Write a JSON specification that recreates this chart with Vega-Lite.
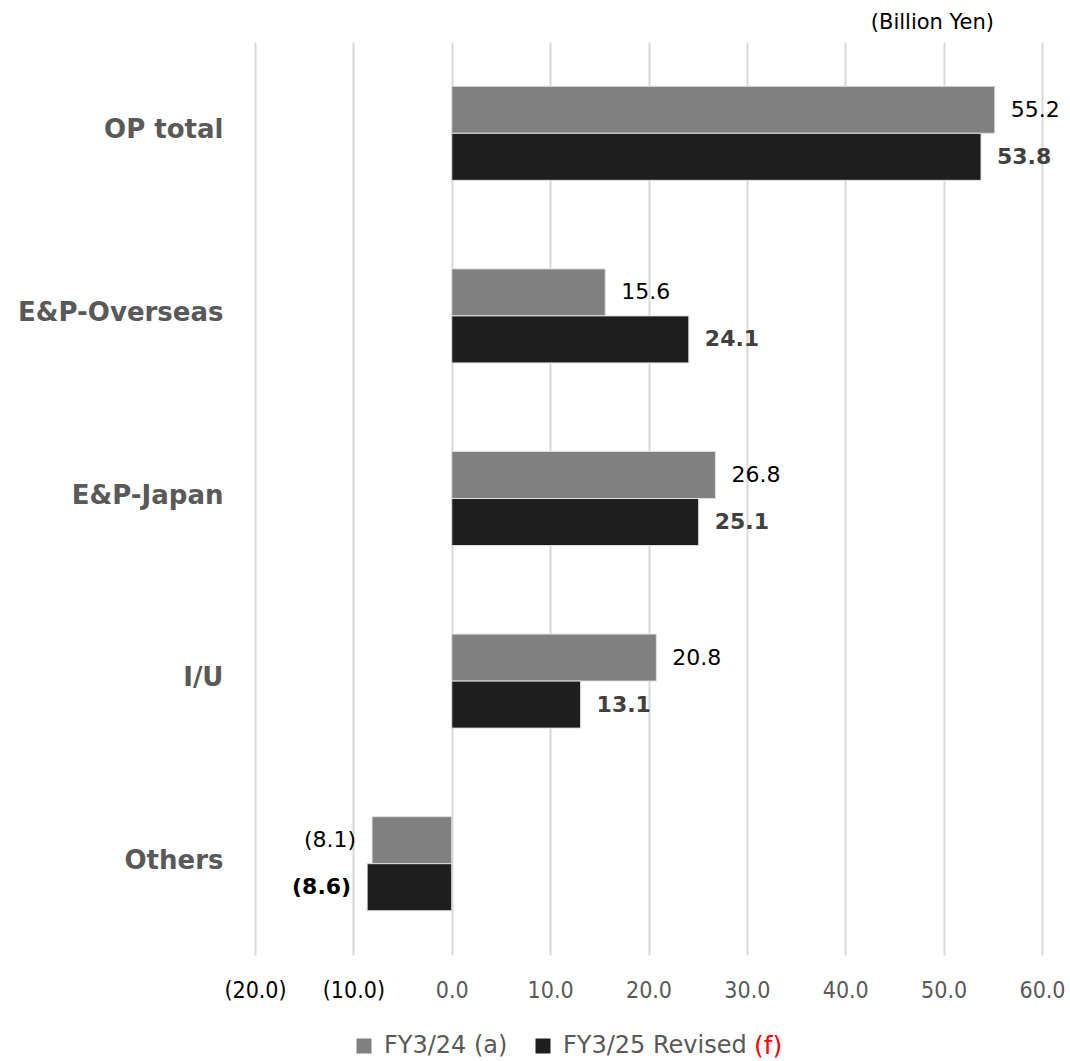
{
  "$schema": "https://vega.github.io/schema/vega-lite/v6.json",
  "autosize": "none",
  "width": 787,
  "height": 913,
  "padding": {"left": 255, "top": 42, "right": 28, "bottom": 106},
  "background": "white",
  "config": {
    "view": {"stroke": null},
    "font": "DejaVu Sans"
  },
  "title": {
    "text": "(Billion Yen)",
    "anchor": "end",
    "orient": "top",
    "offset": 9,
    "dx": -71,
    "fontSize": 21,
    "fontWeight": "normal",
    "color": "#000000",
    "font": "DejaVu Sans"
  },
  "data": {
    "values": [
      {"category": "OP total", "series": "FY3/24 (a)", "value": 55.2},
      {"category": "OP total", "series": "FY3/25 Revised (f)", "value": 53.8},
      {"category": "E&P-Overseas", "series": "FY3/24 (a)", "value": 15.6},
      {"category": "E&P-Overseas", "series": "FY3/25 Revised (f)", "value": 24.1},
      {"category": "E&P-Japan", "series": "FY3/24 (a)", "value": 26.8},
      {"category": "E&P-Japan", "series": "FY3/25 Revised (f)", "value": 25.1},
      {"category": "I/U", "series": "FY3/24 (a)", "value": 20.8},
      {"category": "I/U", "series": "FY3/25 Revised (f)", "value": 13.1},
      {"category": "Others", "series": "FY3/24 (a)", "value": -8.1},
      {"category": "Others", "series": "FY3/25 Revised (f)", "value": -8.6}
    ]
  },
  "transform": [
    {"calculate": "datum.value < 0 ? '(' + format(-datum.value, '.1f') + ')' : format(datum.value, '.1f')", "as": "label"}
  ],
  "encoding": {
    "y": {
      "field": "category",
      "type": "nominal",
      "sort": ["OP total", "E&P-Overseas", "E&P-Japan", "I/U", "Others"],
      "scale": {"paddingInner": 0.485, "paddingOuter": 0.2425},
      "axis": {
        "title": null,
        "domain": false,
        "ticks": false,
        "labelFontSize": 26,
        "labelFontWeight": "bold",
        "labelColor": "#595959",
        "labelPadding": 32,
        "labelOffset": -3,
        "labelLimit": 400,
        "labelFont": "DejaVu Sans"
      }
    },
    "yOffset": {
      "field": "series",
      "type": "nominal",
      "sort": ["FY3/24 (a)", "FY3/25 Revised (f)"],
      "scale": {"paddingInner": 0, "paddingOuter": 0}
    },
    "x": {
      "field": "value",
      "type": "quantitative",
      "scale": {"domain": [-20, 60], "nice": false, "zero": false},
      "axis": {
        "title": null,
        "domain": false,
        "ticks": false,
        "values": [-20, -10, 0, 10, 20, 30, 40, 50, 60],
        "labelExpr": "datum.value < 0 ? '(' + format(-datum.value, '.1f') + ')' : format(datum.value, '.1f')",
        "labelColor": {"condition": {"test": "datum.value < 0", "value": "#000000"}, "value": "#595959"},
        "labelFontSize": 23,
        "labelFont": "DejaVu Sans Condensed",
        "labelFlush": false,
        "labelOverlap": false,
        "labelPadding": 24,
        "grid": true,
        "gridColor": "#d9d9d9",
        "gridWidth": 2
      }
    }
  },
  "layer": [
    {
      "mark": {"type": "bar", "stroke": "#e0e0e0", "strokeWidth": 1},
      "encoding": {
        "color": {
          "field": "series",
          "type": "nominal",
          "sort": ["FY3/24 (a)", "FY3/25 Revised (f)"],
          "scale": {"domain": ["FY3/24 (a)", "FY3/25 Revised (f)"], "range": ["#808080", "#1e1e1e"]},
          "legend": {
            "title": null,
            "orient": "none",
            "legendX": 97,
            "legendY": 992,
            "direction": "horizontal",
            "symbolType": "square",
            "symbolSize": 225,
            "symbolStrokeWidth": 0,
            "labelFontSize": 24,
            "labelOffset": 8,
            "labelColor": "#595959",
            "labelFont": "DejaVu Sans",
            "labelExpr": "replace(datum.label, ' (f)', '')",
            "columnPadding": 23,
            "labelLimit": 400
          }
        }
      }
    },
    {
      "transform": [
        {"filter": "datum.series == 'FY3/25 Revised (f)'"},
        {"calculate": "'(f)'", "as": "tag"}
      ],
      "mark": {"type": "point", "opacity": 0},
      "encoding": {
        "shape": {
          "field": "tag",
          "type": "nominal",
          "legend": {
            "title": null,
            "orient": "none",
            "legendX": 474,
            "legendY": 991,
            "symbolSize": 0,
            "symbolOpacity": 0,
            "labelOffset": 0,
            "labelFontSize": 25,
            "labelColor": "#ff0000",
            "labelFont": "DejaVu Sans"
          }
        }
      }
    },
    {
      "transform": [{"filter": "datum.series == 'FY3/24 (a)' && datum.value >= 0"}],
      "mark": {"type": "text", "align": "left", "baseline": "middle", "dx": 16, "fontSize": 22, "color": "#000000"},
      "encoding": {"text": {"field": "label"}}
    },
    {
      "transform": [{"filter": "datum.series != 'FY3/24 (a)' && datum.value >= 0"}],
      "mark": {"type": "text", "align": "left", "baseline": "middle", "dx": 16, "fontSize": 22, "fontWeight": "bold", "color": "#404040"},
      "encoding": {"text": {"field": "label"}}
    },
    {
      "transform": [{"filter": "datum.series == 'FY3/24 (a)' && datum.value < 0"}],
      "mark": {"type": "text", "align": "right", "baseline": "middle", "dx": -16, "fontSize": 22, "color": "#000000"},
      "encoding": {"text": {"field": "label"}}
    },
    {
      "transform": [{"filter": "datum.series != 'FY3/24 (a)' && datum.value < 0"}],
      "mark": {"type": "text", "align": "right", "baseline": "middle", "dx": -16, "fontSize": 22, "fontWeight": "bold", "color": "#000000"},
      "encoding": {"text": {"field": "label"}}
    }
  ]
}
